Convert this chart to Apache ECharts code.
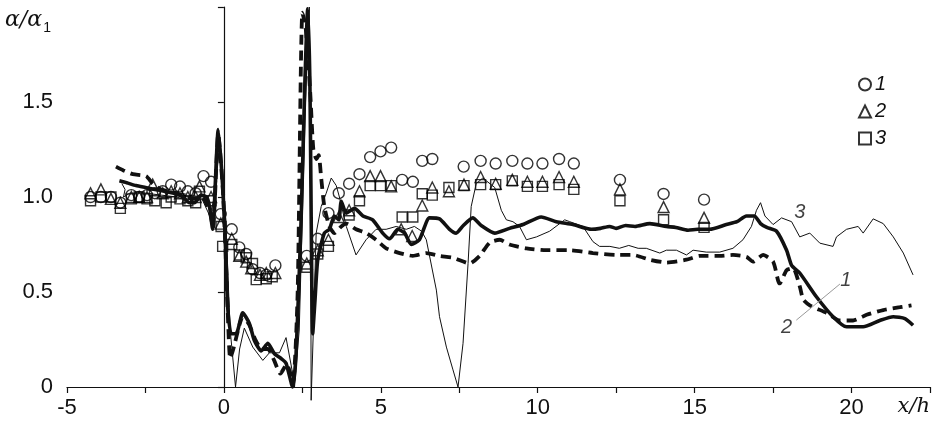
<!DOCTYPE html>
<html lang="ru">
<head>
    <meta charset="UTF-8">
    <title>alpha / alpha1</title>
    <script src="https://cdn.jsdelivr.net/npm/echarts@6.0.0/dist/echarts.min.js"></script>
    <style>
        html, body { margin: 0; padding: 0; background: #fff; }
        #chart { width: 935px; height: 428px; }
    </style>
</head>
<body>
<div id="chart"></div>
<script>
    // экспериментальные точки 1, 2, 3
    var pts1 = [[-4.25,1.0],[-3.92,1.0],[-3.6,1.0],[-3.3,0.97],[-2.95,1.01],[-2.7,1.0],[-2.45,1.01],[-2.2,1.02],[-1.95,1.03],[-1.68,1.065],[-1.4,1.055],[-1.15,1.03],[-0.9,1.02],[-0.65,1.11],[-0.41,1.08],[-0.1,0.91],[0.25,0.83],[0.49,0.735],[0.71,0.7],[0.91,0.62],[1.15,0.6],[1.35,0.59],[1.64,0.64],
        [2.64,0.69],[2.99,0.78],[3.33,0.915],[3.66,1.02],[3.99,1.07],[4.32,1.12],[4.66,1.21],[4.99,1.24],[5.33,1.26],[5.68,1.09],[6.02,1.08],[6.32,1.19],[6.64,1.2],[7.64,1.16],[8.18,1.19],[8.66,1.176],[9.19,1.19],[9.67,1.176],[10.15,1.176],[10.68,1.2],[11.15,1.176],[12.62,1.09],[14.01,1.016],[15.3,0.986]];
    var pts2 = [[-4.25,1.02],[-3.92,1.04],[-3.6,0.99],[-3.3,0.97],[-2.95,1.0],[-2.7,1.0],[-2.45,1.0],[-2.27,1.065],[-1.95,1.02],[-1.68,1.03],[-1.4,1.02],[-1.15,1.0],[-0.9,1.0],[-0.78,1.056],[-0.41,1.0],[-0.1,0.86],[0.25,0.78],[0.49,0.69],[0.71,0.66],[0.87,0.625],[1.15,0.59],[1.35,0.6],[1.64,0.6],
        [2.64,0.65],[2.99,0.72],[3.33,0.775],[3.66,0.895],[3.99,0.93],[4.32,1.03],[4.66,1.11],[4.99,1.11],[5.33,1.056],[5.65,0.83],[6.0,0.795],[6.32,0.955],[6.64,1.05],[7.17,1.03],[7.65,1.065],[8.18,1.105],[8.66,1.07],[9.19,1.09],[9.67,1.08],[10.15,1.08],[10.68,1.105],[11.15,1.08],[12.62,1.04],[14.01,0.947],[15.3,0.89]];
    var pts3 = [[-4.25,0.98],[-3.92,1.0],[-3.6,1.0],[-3.3,0.94],[-2.95,0.99],[-2.7,1.0],[-2.45,0.99],[-2.2,0.98],[-1.84,0.97],[-1.68,1.0],[-1.4,0.99],[-1.15,0.98],[-0.9,0.97],[-0.78,1.03],[-0.41,0.98],[-0.09,0.845],[-0.04,0.74],[0.25,0.75],[0.49,0.695],[0.71,0.68],[0.91,0.65],[1.03,0.565],[1.35,0.57],[1.54,0.58],
        [2.64,0.63],[2.99,0.7],[3.33,0.74],[3.99,0.905],[4.32,0.98],[4.66,1.06],[4.99,1.06],[5.33,1.06],[5.68,0.895],[6.02,0.895],[6.32,1.017],[6.64,1.01],[7.17,1.05],[7.65,1.06],[8.18,1.065],[8.66,1.065],[9.19,1.085],[9.67,1.056],[10.15,1.056],[10.68,1.065],[11.15,1.04],[12.62,0.98],[14.01,0.88],[15.3,0.84]];

    // расчетные кривые
    var curve1 = [[-3.33,1.085],[-3.1,1.075],[-2.8,1.06],[-2.5,1.05],[-2.2,1.04],[-1.9,1.03],[-1.6,1.02],[-1.3,1.0],[-1.1,0.97],[-0.94,0.97],[-0.73,1.01],[-0.55,1.0],[-0.46,0.95],[-0.36,0.83],[-0.18,1.355],[-0.04,1.056],[0.07,0.67],[0.12,0.42],[0.23,0.28],[0.39,0.28],[0.6,0.39],[0.81,0.335],[0.97,0.245],[1.19,0.19],[1.4,0.23],[1.61,0.175],[1.82,0.15],[1.98,0.125],[2.19,0.0],[2.3,0.175],[2.46,0.88],[2.58,1.6],[2.67,1.99],[2.74,1.6],[2.83,0.28],[2.9,0.45],[2.99,0.67],[3.2,0.81],[3.36,0.83],[3.52,0.9],[3.66,0.88],[3.74,0.977],[3.9,0.915],[4.16,0.94],[4.43,0.9],[4.74,0.88],[5.06,0.81],[5.28,0.78],[5.54,0.83],[5.76,0.81],[5.97,0.75],[6.23,0.775],[6.55,0.89],[6.87,0.885],[7.19,0.83],[7.4,0.81],[7.63,0.85],[7.93,0.89],[8.2,0.85],[8.63,0.81],[9.1,0.835],[9.53,0.855],[10.11,0.895],[10.59,0.87],[11.12,0.855],[11.71,0.83],[12.0,0.835],[12.29,0.845],[12.5,0.835],[12.8,0.85],[13.1,0.845],[13.57,0.86],[14.1,0.845],[14.4,0.84],[14.79,0.825],[15.1,0.83],[15.48,0.83],[16.01,0.855],[16.35,0.87],[16.65,0.9],[16.9,0.9],[17.1,0.86],[17.3,0.84],[17.61,0.82],[17.93,0.72],[18.09,0.64],[18.35,0.6],[18.88,0.475],[19.41,0.37],[19.84,0.317],[20.37,0.317],[20.9,0.35],[21.33,0.37],[21.7,0.36],[21.96,0.325]];
    var curve2 = [[-3.44,1.16],[-3.2,1.14],[-2.9,1.12],[-2.48,1.11],[-2.27,1.07],[-2.0,1.04],[-1.5,1.02],[-1.0,0.99],[-0.7,1.0],[-0.45,0.92],[-0.35,0.84],[-0.18,1.33],[-0.02,1.0],[0.1,0.5],[0.2,0.15],[0.3,0.2],[0.5,0.33],[0.6,0.37],[0.8,0.33],[1.0,0.25],[1.2,0.2],[1.4,0.2],[1.6,0.14],[1.8,0.07],[2.0,0.12],[2.2,0.03],[2.35,0.5],[2.5,1.97],[2.6,1.9],[2.75,1.55],[2.85,1.25],[2.95,1.2],[3.02,1.22],[3.1,1.1],[3.2,0.95],[3.36,0.845],[3.52,0.81],[3.74,0.845],[3.9,0.86],[4.21,0.83],[4.53,0.81],[4.85,0.775],[5.17,0.73],[5.6,0.705],[6.02,0.69],[6.45,0.705],[6.87,0.69],[7.3,0.68],[7.83,0.65],[8.15,0.69],[8.47,0.76],[8.79,0.775],[9.1,0.75],[9.64,0.73],[10.27,0.72],[11.02,0.72],[11.76,0.705],[12.5,0.695],[13.03,0.695],[13.57,0.67],[14.1,0.655],[14.74,0.67],[15.16,0.69],[15.8,0.69],[16.22,0.695],[16.65,0.685],[16.86,0.66],[17.18,0.695],[17.5,0.66],[17.66,0.56],[17.71,0.545],[17.93,0.615],[18.14,0.625],[18.35,0.53],[18.46,0.46],[18.67,0.43],[19.2,0.39],[19.63,0.35],[20.05,0.35],[20.48,0.38],[21.01,0.405],[21.54,0.42],[21.91,0.43]];
    var curve3 = [[-3.25,1.07],[-3.15,1.04],[-3.2,1.0],[-3.0,1.02],[-2.5,1.02],[-2.0,1.01],[-1.5,1.0],[-1.0,0.97],[-0.7,0.99],[-0.45,0.9],[-0.3,1.0],[-0.12,1.3],[0.05,0.9],[0.2,0.3],[0.37,0.0],[0.5,0.2],[0.65,0.31],[0.92,0.21],[1.24,0.14],[1.45,0.18],[1.77,0.18],[1.98,0.26],[2.17,0.09],[2.25,0.0],[2.4,0.3],[2.6,1.5],[2.72,2.0],[2.76,1.2],[2.78,-0.07],[2.85,0.3],[2.94,0.81],[3.1,0.95],[3.26,1.02],[3.42,1.1],[3.47,1.11],[3.58,1.06],[3.68,1.0],[3.9,0.845],[4.21,0.695],[4.53,0.775],[4.85,0.83],[5.17,0.83],[5.49,0.845],[5.81,0.83],[6.07,0.845],[6.3,0.82],[6.45,0.775],[6.77,0.51],[6.87,0.37],[7.09,0.21],[7.3,0.09],[7.46,0.0],[7.62,0.23],[7.78,0.65],[7.88,0.95],[8.04,1.07],[8.25,1.1],[8.63,1.05],[8.84,0.93],[9.0,0.88],[9.21,0.87],[9.42,0.845],[9.64,0.775],[9.96,0.79],[10.38,0.82],[10.86,0.88],[11.02,0.87],[11.44,0.845],[11.76,0.765],[11.97,0.74],[12.3,0.74],[12.6,0.73],[12.9,0.745],[13.2,0.73],[13.46,0.73],[13.89,0.705],[14.1,0.72],[14.42,0.72],[14.74,0.695],[14.95,0.72],[15.37,0.71],[15.8,0.71],[16.22,0.73],[16.54,0.775],[16.81,0.845],[16.97,0.93],[17.1,0.97],[17.24,0.9],[17.5,0.855],[17.77,0.89],[18.09,0.87],[18.35,0.79],[18.67,0.81],[18.99,0.757],[19.41,0.74],[19.52,0.79],[19.84,0.83],[20.21,0.845],[20.37,0.81],[20.69,0.885],[21.01,0.86],[21.33,0.79],[21.65,0.705],[21.96,0.59]];

    // подписи кривых и выноска
    var curveLabels = [['3', 18.35, 0.92], ['1', 19.82, 0.56], ['2', 17.93, 0.315]];
    var leader = [[18.24, 0.352], [19.63, 0.542]];

    var xTicks = [-5, 0, 5, 10, 15, 20];

    var chart = echarts.init(document.getElementById('chart'));
    var markStyle = {color: 'rgba(255,255,255,0)', borderColor: '#000', borderWidth: 1.4};
    var sans = '"Liberation Sans", Arial, sans-serif';
    var serif = '"DejaVu Serif", "Liberation Serif", serif';

    var option = {
        animation: false,
        backgroundColor: '#fff',
        grid: {left: 67, right: 5, top: 7, bottom: 41, outerBoundsMode: 'none'},
        graphic: [{
            type: 'text', left: 5, top: 9,
            style: {
                text: '{a|α/α}{s|1}',
                rich: {
                    a: {fontFamily: serif, fontStyle: 'italic', fontSize: 22, fill: '#111', verticalAlign: 'bottom'},
                    s: {fontFamily: sans, fontSize: 14, fill: '#111', verticalAlign: 'bottom', padding: [0, 0, -4, 1]}
                }
            }
        }],
        legend: {
            orient: 'vertical',
            left: 853, top: 69,
            itemWidth: 12, itemHeight: 12, itemGap: 6,
            data: ['1', '2', '3'],
            textStyle: {fontFamily: sans, fontStyle: 'italic', fontSize: 20, color: '#111', lineHeight: 21, padding: [0, 0, 0, -1]}
        },
        xAxis: {
            type: 'value', min: -5, max: 22.5, interval: 2.5,
            name: 'x/h', nameLocation: 'end', nameGap: 0,
            nameTextStyle: {fontFamily: serif, fontStyle: 'italic', fontSize: 21, color: '#111', align: 'right', verticalAlign: 'top', padding: [9, 0, 0, 0]},
            axisLine: {lineStyle: {color: '#111', width: 1.2}},
            axisTick: {length: 6, lineStyle: {color: '#111', width: 1.2}},
            splitLine: {show: false},
            axisLabel: {
                fontFamily: sans, fontSize: 22, color: '#111', margin: 10, showMinLabel: true, showMaxLabel: true,
                formatter: function (v) { return xTicks.indexOf(v) >= 0 ? String(v) : ''; }
            }
        },
        yAxis: {
            type: 'value', min: 0, max: 2, interval: 0.5,
            axisLine: {show: true, lineStyle: {color: '#111', width: 1.2}},
            axisTick: {show: true, length: 6, lineStyle: {color: '#111', width: 1.2}},
            splitLine: {show: false},
            axisLabel: {
                fontFamily: sans, fontSize: 22, color: '#111', margin: 14,
                formatter: function (v) { return v === 0 ? '0' : (v >= 2 ? '' : v.toFixed(1)); }
            }
        },
        series: [
            {name: '1', type: 'scatter', symbol: 'circle', symbolSize: 11, itemStyle: markStyle, data: pts1, z: 2},
            {name: '2', type: 'scatter', symbol: 'triangle', symbolSize: 11, itemStyle: markStyle, data: pts2, z: 2},
            {name: '3', type: 'scatter', symbol: 'rect', symbolSize: 10, itemStyle: markStyle, data: pts3, z: 2},
            {name: 'c3', type: 'line', data: curve3, showSymbol: false, clip: false, lineStyle: {color: '#111', width: 1}, z: 3},
            {name: 'c2', type: 'line', data: curve2, showSymbol: false, clip: false, smooth: 0.2, lineStyle: {color: '#111', width: 3.8, type: [10, 6]}, z: 4},
            {name: 'c1', type: 'line', data: curve1, showSymbol: false, clip: false, smooth: 0.2, lineStyle: {color: '#111', width: 3.6}, z: 5},
            {name: 'leader', type: 'line', data: leader, showSymbol: false, lineStyle: {color: '#999', width: 1}, z: 6},
            {
                name: 'labels', type: 'scatter', symbolSize: 0, z: 7,
                data: curveLabels.map(function (d) { return {value: [d[1], d[2]], name: d[0]}; }),
                label: {show: true, position: 'inside', formatter: '{b}', fontFamily: sans, fontStyle: 'italic', fontSize: 20, color: '#111'}
            }
        ]
    };
    chart.setOption(option);
</script>
</body>
</html>
